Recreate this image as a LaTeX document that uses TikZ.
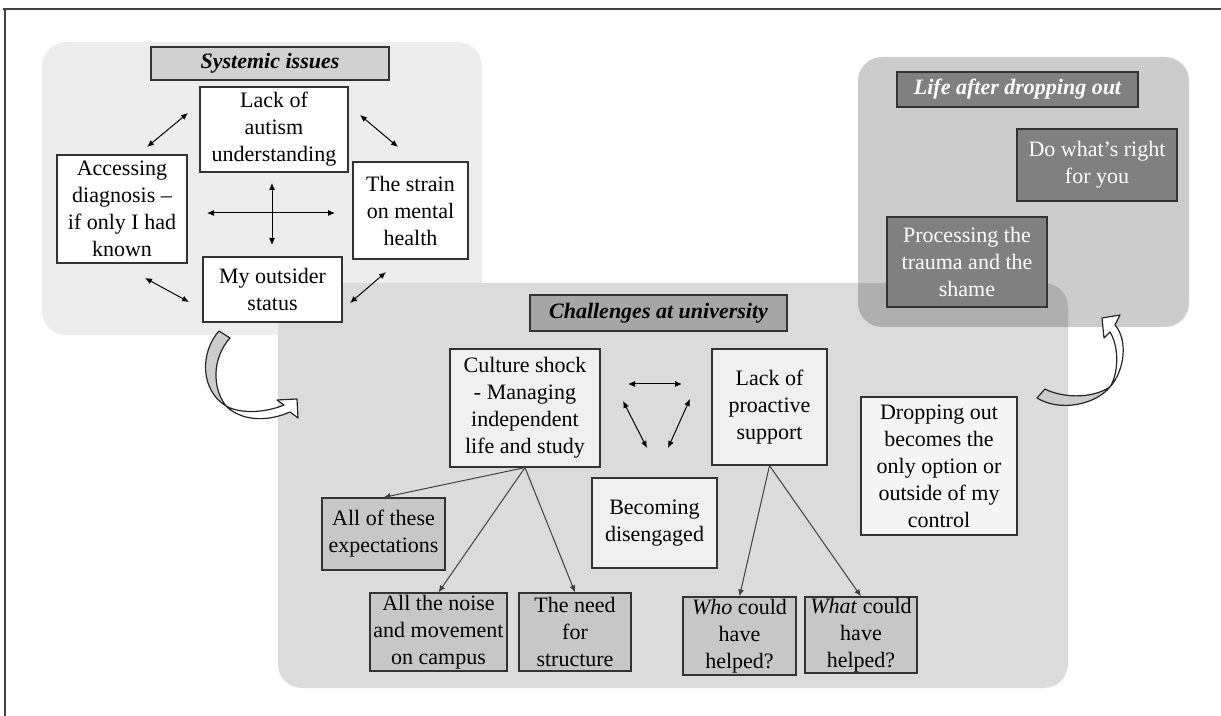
\documentclass[tikz,border=0pt]{standalone}
\usepackage{fontspec}
\setmainfont{Liberation Serif}
\usetikzlibrary{arrows.meta,positioning}

\begin{document}
\begin{tikzpicture}[x=0.5pt, y=-0.5pt,
    txt/.style={font=\fontsize{11}{13.5}\selectfont, align=center, inner sep=0pt},
    bx/.style={txt, rectangle, draw=black!80, line width=0.6pt},
    wbox/.style={bx, fill=white},
    lbox/.style={bx, fill=black!6},
    mbox/.style={bx, fill=black!22},
    dbox/.style={bx, fill=black!50, text=white},
    hdr/.style={font=\fontsize{11}{13.5}\selectfont\bfseries\itshape},
    panel/.style={rounded corners=12pt},
    dbl/.style={{Latex[length=3.5pt,width=3pt]}-{Latex[length=3.5pt,width=3pt]}, line width=0.5pt},
    arr/.style={-{Latex[length=3.5pt,width=3pt]}, line width=0.5pt, draw=black!75},
    curvarr/.style={draw=black!85, line width=0.6pt, line join=round}
]
    \useasboundingbox (0,0) rectangle (1221,716);

    % the three panels
    \fill [panel, black!7] (42,42) rectangle (482,335);
    \fill [panel, black!14] (278,283) rectangle (1068,688);
    \fill [panel, black, fill opacity=0.2] (858,57) rectangle (1189,327);

    % frame
    \draw [black!75, line width=1pt] (3,9) -- (1221,9);
    \draw [black!75, line width=1pt] (5,9) -- (5,716);

    % curved arrow, systemic -> university
    \draw [curvarr, fill=black!20] (219,331) .. controls (200,352) and (200,390) .. (226,406)
        .. controls (212,388) and (212,358) .. (230,338) -- cycle;
    \draw [curvarr, fill=white] (226,406) .. controls (240,420) and (265,423) .. (290,412)
        -- (298,418) -- (297,399) -- (277,400) -- (284,405)
        .. controls (265,413) and (240,414) .. (226,406) -- cycle;

    % curved arrow, university -> life after
    \draw [curvarr, fill=black!20] (1045,389) .. controls (1060,397) and (1090,400) .. (1110,387)
        .. controls (1095,405) and (1060,412) .. (1037,398) -- cycle;
    \draw [curvarr, fill=white] (1110,387) .. controls (1125,370) and (1128,340) .. (1115,325)
        -- (1120,315) -- (1102,318) -- (1104,338) -- (1110,332)
        .. controls (1118,345) and (1120,370) .. (1110,387) -- cycle;

    % Systemic issues
    \node [bx, hdr, fill=black!18, minimum width=119pt, minimum height=16.5pt] (hdrSys) at (270,63.5) {Systemic issues};
    \node [wbox, minimum width=74pt, minimum height=42.5pt] (lack) at (274,129.5) {Lack of\\autism\\understanding};
    \node [wbox, minimum width=65pt, minimum height=54pt] (access) at (122,209) {Accessing\\diagnosis –\\if only I had\\known};
    \node [wbox, minimum width=57.5pt, minimum height=48.5pt] (strain) at (410.5,210.5) {The strain\\on mental\\health};
    \node [wbox, minimum width=69.5pt, minimum height=32.5pt] (outsider) at (272.5,289.5) {My outsider\\status};

    \coordinate (sA1) at (147,147);  \coordinate (sA2) at (188,113);
    \coordinate (sB1) at (360,115);  \coordinate (sB2) at (398,147);
    \coordinate (sC1) at (145,278);  \coordinate (sC2) at (189,302);
    \coordinate (sD1) at (386,272);  \coordinate (sD2) at (350,303);
    \coordinate (sH1) at (207,213);  \coordinate (sH2) at (335,213);
    \coordinate (sV1) at (272,183);  \coordinate (sV2) at (272,245);
    \draw [dbl] (sA1) -- (sA2);
    \draw [dbl] (sB1) -- (sB2);
    \draw [dbl] (sC1) -- (sC2);
    \draw [dbl] (sD1) -- (sD2);
    \draw [dbl] (sH1) -- (sH2);
    \draw [dbl] (sV1) -- (sV2);

    % Challenges at university
    \node [bx, hdr, fill=black!35, minimum width=128.5pt, minimum height=18pt] (hdrChal) at (658.5,313) {Challenges at university};
    \node [lbox, minimum width=75pt, minimum height=59pt] (culture) at (525,408) {Culture shock\\- Managing\\independent\\life and study};
    \node [lbox, minimum width=57.5pt, minimum height=58pt] (proactive) at (769.5,407) {Lack of\\proactive\\support};
    \node [lbox, minimum width=62.5pt, minimum height=45pt] (disengaged) at (654.5,523) {Becoming\\disengaged};
    \node [bx, fill=black!4, minimum width=78pt, minimum height=69pt] (dropping) at (939,466) {Dropping out\\becomes the\\only option or\\outside of my\\control};
    \node [mbox, minimum width=61.5pt, minimum height=36pt] (expect) at (383.5,534) {All of these\\expectations};
    \node [mbox, minimum width=68.5pt, minimum height=39pt] (noise) at (438.5,632) {All the noise\\and movement\\on campus};
    \node [mbox, minimum width=56pt, minimum height=39pt] (structure) at (575,632) {The need\\for\\structure};
    \node [mbox, minimum width=56.5pt, minimum height=39pt] (who) at (739.5,636) {\textit{Who} could\\have\\helped?};
    \node [mbox, minimum width=56pt, minimum height=38pt] (what) at (861,635) {\textit{What} could\\have\\helped?};

    \coordinate (cH1) at (628,384);  \coordinate (cH2) at (682,384);
    \coordinate (cL1) at (623,401);  \coordinate (cL2) at (647,448);
    \coordinate (cR1) at (690,399);  \coordinate (cR2) at (668,448);
    \draw [dbl] (cH1) -- (cH2);
    \draw [dbl] (cL1) -- (cL2);
    \draw [dbl] (cR1) -- (cR2);

    \draw [arr] (culture.south) -- (expect.north);
    \draw [arr] (culture.south) -- (noise.north);
    \draw [arr] (culture.south) -- (structure.north);
    \draw [arr] (proactive.south) -- (who.north);
    \draw [arr] (proactive.south) -- (what.north);

    % Life after dropping out
    \node [dbox, hdr, minimum width=120.5pt, minimum height=17.5pt] (hdrLife) at (1017.5,89.5) {Life after dropping out};
    \node [dbox, minimum width=80pt, minimum height=36pt] (doright) at (1097,165) {Do what’s right\\for you};
    \node [dbox, minimum width=80pt, minimum height=45pt] (processing) at (967,262) {Processing the\\trauma and the\\shame};
\end{tikzpicture}
\end{document}
